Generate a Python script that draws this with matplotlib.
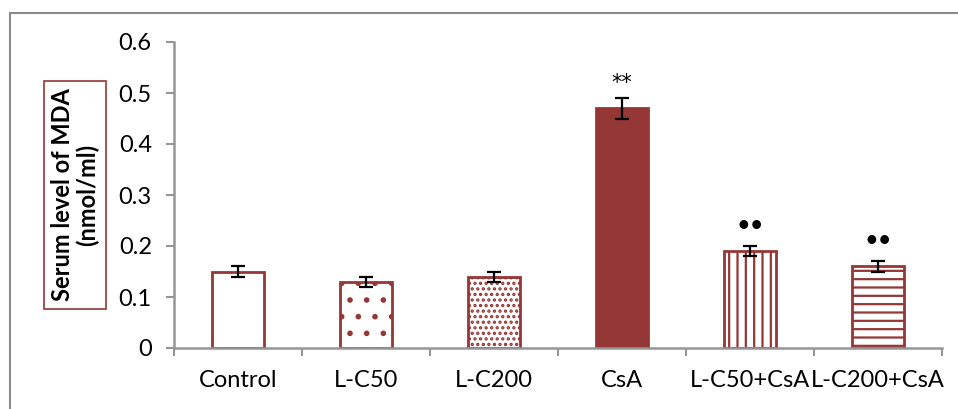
import matplotlib
matplotlib.use("Agg")
import matplotlib.pyplot as plt
from matplotlib.patches import Rectangle

plt.rcParams['font.family'] = ['Lato', 'DejaVu Sans']
plt.rcParams['hatch.linewidth'] = 1.6

groups = ["Control", "L-C50", "L-C200", "CsA", "L-C50+CsA", "L-C200+CsA"]
mda = [0.15, 0.13, 0.14, 0.47, 0.19, 0.16]
sem = [0.01, 0.01, 0.01, 0.02, 0.01, 0.01]
marks = ["", "", "", "**", "\u2022\u2022", "\u2022\u2022"]
hatches = [None, ".", "...", None, "||", "--"]
y_ticks = [0, 0.1, 0.2, 0.3, 0.4, 0.5, 0.6]
y_tick_labels = ["0", "0.1", "0.2", "0.3", "0.4", "0.5", "0.6"]

red = "#953735"
grey = "#969696"

W, H = 958, 409
fig = plt.figure(figsize=(W / 100, H / 100), dpi=100)
ax = fig.add_axes([174 / W, 1 - 348 / H, (942 - 174) / W, (348 - 42) / H])

x = list(range(len(groups)))
for i, (v, h) in enumerate(zip(mda, hatches)):
    face = red if groups[i] == "CsA" else "white"
    ax.bar(i, v, width=0.4, color=face, edgecolor=red, hatch=h, linewidth=2, zorder=2)

ax.errorbar(x, mda, yerr=sem, fmt="none", ecolor="black", elinewidth=1.6,
            capsize=5, capthick=1.6, zorder=3)

for i, m in enumerate(marks):
    if m == "**":
        ax.annotate(m, (i, mda[i] + sem[i]), xytext=(0, 11), textcoords="offset points",
                    ha="center", va="center", fontsize=15, family="DejaVu Sans",
                    color="black")
    elif m:
        ax.annotate(m, (i, mda[i] + sem[i]), xytext=(0, 15), textcoords="offset points",
                    ha="center", va="center", fontsize=17, color="black")

ax.set_xlim(-0.5, len(groups) - 0.5)
ax.set_ylim(0, 0.6)
ax.set_yticks(y_ticks)
ax.set_yticklabels(y_tick_labels, fontsize=17)

ax.set_xticks([i - 0.5 for i in range(len(groups) + 1)])
ax.set_xticklabels([])
ax.set_xticks(x, minor=True)
ax.set_xticklabels(groups, minor=True, fontsize=17)
ax.tick_params(axis="x", which="minor", length=0, pad=16)
ax.tick_params(axis="x", which="major", length=6, width=1.5, color=grey, direction="out")
ax.tick_params(axis="y", length=6, width=1.5, color=grey, direction="out", pad=10)

for s in ["top", "right"]:
    ax.spines[s].set_visible(False)
for s in ["left", "bottom"]:
    ax.spines[s].set_color(grey)
    ax.spines[s].set_linewidth(1.8)

fig.text(75 / W, 1 - 195 / H, "Serum level of MDA\n(nmol/ml)", rotation=90,
         ha="center", va="center", fontsize=17, fontweight="bold", linespacing=1.05,
         bbox=dict(boxstyle="square,pad=0.3", facecolor="white", edgecolor=red, linewidth=1.2))

fig.patches.append(Rectangle((9.5 / W, -0.1), 1.2, 1.1 - 13.5 / H, transform=fig.transFigure,
                             fill=False, edgecolor="#8c8c8c", linewidth=1.5))

fig.savefig("out.png", dpi=100)
